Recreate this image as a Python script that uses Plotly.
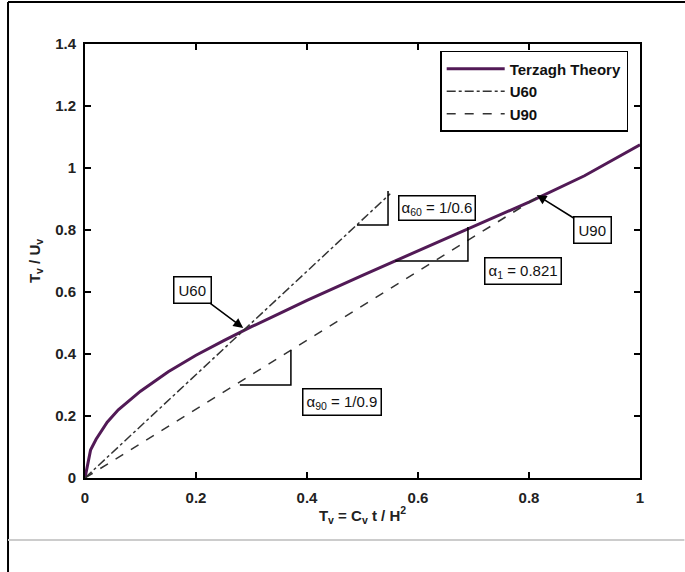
import plotly.graph_objects as go

# Terzaghi theory curve
tv_theory = [0, 0.01, 0.02, 0.04, 0.06, 0.08, 0.10, 0.15, 0.20, 0.25, 0.30, 0.35,
             0.40, 0.50, 0.60, 0.70, 0.80, 0.90, 1.00]
tvu_theory = [0, 0.09, 0.125, 0.18, 0.22, 0.25, 0.28, 0.343, 0.396, 0.443, 0.488, 0.53,
              0.573, 0.654, 0.732, 0.81, 0.89, 0.975, 1.075]

# U60 line (slope 1/0.6)
tv_u60 = [0, 0.55]
tvu_u60 = [0, 0.917]

# U90 line (slope 1/0.9)
tv_u90 = [0, 0.82]
tvu_u90 = [0, 0.911]

# slope triangles (x, y)
tri60_x = [0.49, 0.546, 0.546]
tri60_y = [0.816, 0.816, 0.926]
tri1_x = [0.559, 0.69, 0.69]
tri1_y = [0.70, 0.70, 0.81]
tri90_x = [0.279, 0.371, 0.371]
tri90_y = [0.30, 0.30, 0.412]

x_ticks = [0, 0.2, 0.4, 0.6, 0.8, 1]
x_ticklabels = ["0", "0.2", "0.4", "0.6", "0.8", "1"]
y_ticks = [0, 0.2, 0.4, 0.6, 0.8, 1, 1.2, 1.4]
y_ticklabels = ["0", "0.2", "0.4", "0.6", "0.8", "1", "1.2", "1.4"]

FONT = "Liberation Sans, Arial, sans-serif"
purple = "#521a56"
gray = "#333333"

fig = go.Figure()
fig.add_trace(go.Scatter(x=tv_theory, y=tvu_theory, mode="lines", name="Terzagh Theory",
                         line=dict(color=purple, width=3)))
fig.add_trace(go.Scatter(x=tv_u60, y=tvu_u60, mode="lines", name="U60",
                         line=dict(color=gray, width=1.5, dash="dashdot")))
fig.add_trace(go.Scatter(x=tv_u90, y=tvu_u90, mode="lines", name="U90",
                         line=dict(color=gray, width=1.5, dash="dash")))
for tx, ty in [(tri60_x, tri60_y), (tri1_x, tri1_y), (tri90_x, tri90_y)]:
    fig.add_trace(go.Scatter(x=tx, y=ty, mode="lines", showlegend=False, hoverinfo="skip",
                             line=dict(color="black", width=1.5)))

ann_font = dict(family=FONT, size=15, color="#111")
annotations = [
    dict(x=0.285, y=0.484, xref="x", yref="y", text="U60", showarrow=True,
         ax=-51, ay=-38, arrowhead=2, arrowsize=1.3, arrowwidth=1.5, arrowcolor="black",
         bordercolor="black", borderwidth=1.5, borderpad=4, bgcolor="white", font=ann_font),
    dict(x=0.814, y=0.913, xref="x", yref="y", text="U90", showarrow=True,
         ax=56, ay=35, arrowhead=2, arrowsize=1.3, arrowwidth=1.5, arrowcolor="black",
         bordercolor="black", borderwidth=1.5, borderpad=4, bgcolor="white", font=ann_font),
    dict(x=0.634, y=0.871, xref="x", yref="y", text="α<sub>60</sub> = 1/0.6", showarrow=False,
         bordercolor="black", borderwidth=1.5, borderpad=2, bgcolor="white", font=ann_font),
    dict(x=0.789, y=0.668, xref="x", yref="y", text="α<sub>1</sub> = 0.821", showarrow=False,
         bordercolor="black", borderwidth=1.5, borderpad=3, bgcolor="white", font=ann_font),
    dict(x=0.463, y=0.245, xref="x", yref="y", text="α<sub>90</sub> = 1/0.9", showarrow=False,
         bordercolor="black", borderwidth=1.5, borderpad=3, bgcolor="white", font=ann_font),
]

shapes = [
    # outer frame lines (left, top) and gray separator
    dict(type="line", xref="paper", yref="paper", x0=-0.1387, x1=-0.1387, y0=-0.22, y1=1.097,
         line=dict(color="black", width=2)),
    dict(type="line", xref="paper", yref="paper", x0=-0.1387, x1=1.09, y0=1.097, y1=1.097,
         line=dict(color="black", width=2)),
    dict(type="line", xref="paper", yref="paper", x0=-0.1387, x1=1.08, y0=-0.1429, y1=-0.1429,
         line=dict(color="#cccccc", width=2)),
]

axis_common = dict(showgrid=False, zeroline=False, showline=True, linecolor="black", linewidth=2,
                   mirror="ticks", ticks="inside", ticklen=6, tickwidth=1.5, tickcolor="black",
                   tickfont=dict(family=FONT, size=15, color="#222", weight="bold"))

fig.update_layout(
    width=685, height=572,
    margin=dict(l=85, r=45, t=44, b=94),
    paper_bgcolor="white", plot_bgcolor="white",
    xaxis=dict(range=[0, 1], tickvals=x_ticks, ticktext=x_ticklabels, ticklabelstandoff=5,
               title=dict(text="T<sub>v</sub> = C<sub>v</sub> t / H<sup>2</sup>",
                          font=dict(family=FONT, size=15, color="#222", weight="bold"), standoff=5),
               **axis_common),
    yaxis=dict(range=[0, 1.4], tickvals=y_ticks, ticktext=y_ticklabels, ticklabelstandoff=4,
               title=dict(text="T<sub>v</sub> / U<sub>v</sub>",
                          font=dict(family=FONT, size=15, color="#222", weight="bold"), standoff=11),
               **axis_common),
    legend=dict(x=0.64, y=0.984, xanchor="left", yanchor="top", bgcolor="white",
                bordercolor="black", borderwidth=1.5,
                font=dict(family=FONT, size=15, color="#111", weight="bold"),
                itemwidth=58, tracegroupgap=0),
    annotations=annotations,
    shapes=shapes,
    showlegend=True,
)

fig.write_html("out.html", config={"displayModeBar": False},
               post_script="document.body.style.margin='0';")
